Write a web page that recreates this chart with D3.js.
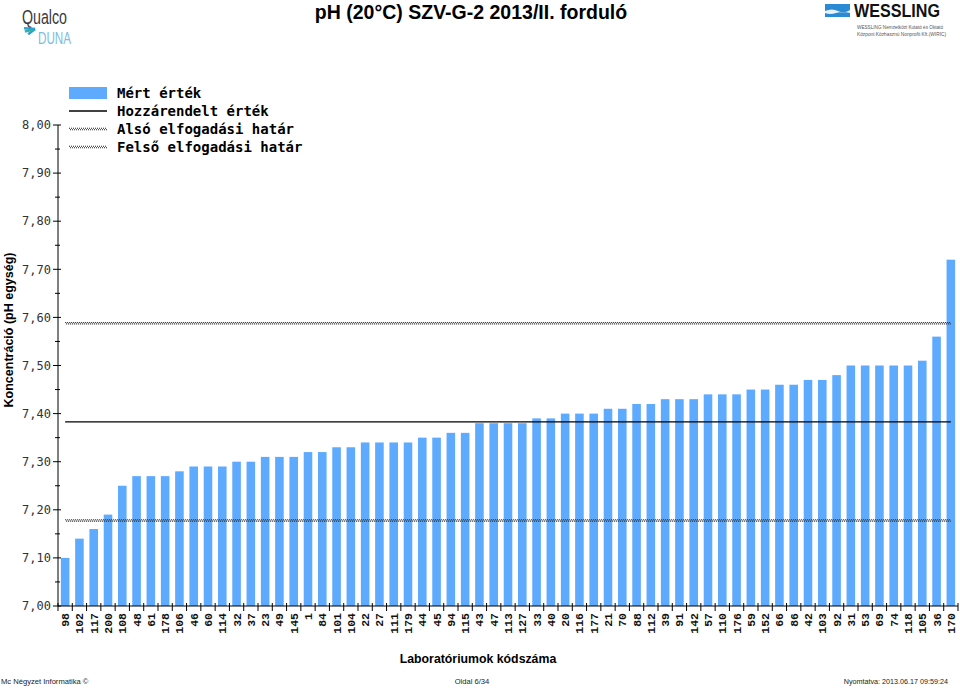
<!DOCTYPE html>
<html><head><meta charset="utf-8">
<script src="https://cdn.jsdelivr.net/npm/d3@7/dist/d3.min.js"></script>
<style>body{margin:0;background:#fff;} svg{display:block;}</style>
</head><body>
<svg id="chart" width="960" height="689"></svg>
<script>
const labs = ["98","102","117","200","108","48","61","178","106","46","60","114","32","37","23","49","145","1","84","101","104","22","27","111","179","44","45","94","115","43","47","113","127","33","40","20","116","177","21","70","88","112","39","91","142","57","110","176","59","152","66","86","42","103","92","31","53","69","74","118","105","36","170"];
const values = [7.10,7.14,7.16,7.19,7.25,7.27,7.27,7.27,7.28,7.29,7.29,7.29,7.30,7.30,7.31,7.31,7.31,7.32,7.32,7.33,7.33,7.34,7.34,7.34,7.34,7.35,7.35,7.36,7.36,7.38,7.38,7.38,7.38,7.39,7.39,7.40,7.40,7.40,7.41,7.41,7.42,7.42,7.43,7.43,7.43,7.44,7.44,7.44,7.45,7.45,7.46,7.46,7.47,7.47,7.48,7.50,7.50,7.50,7.50,7.50,7.51,7.56,7.72];
const assigned = 7.383;
const lowerLimit = 7.178;
const upperLimit = 7.588;
const yTicks = [7.0,7.1,7.2,7.3,7.4,7.5,7.6,7.7,7.8,7.9,8.0];
const yMinor = [7.05,7.15,7.25,7.35,7.45,7.55,7.65,7.75,7.85,7.95];
const legendItems = ["Mért érték","Hozzárendelt érték","Alsó elfogadási határ","Felső elfogadási határ"];

const svg = d3.select("#chart");
const x = d3.scaleBand().domain(labs).range([58, 958]).paddingInner(0.4).paddingOuter(0.2);
const y = d3.scaleLinear().domain([7.0, 8.0]).range([606, 125]);
const barColor = "#5DAAFF";
const ff = "'Liberation Sans', Arial, sans-serif";

// bars
svg.append("g").selectAll("rect").data(values).join("rect")
  .attr("x", (d,i) => x(labs[i]))
  .attr("y", d => y(d))
  .attr("width", x.bandwidth())
  .attr("height", d => y(7.0) - y(d))
  .attr("fill", barColor);

// reference lines
const x0 = x(labs[0]) + x.bandwidth()/2, x1 = x(labs[labs.length-1]) + x.bandwidth()/2;
function hatch(g, yy, xa, xb){
  g.append("line").attr("x1",xa).attr("x2",xb).attr("y1",yy-0.7).attr("y2",yy-0.7)
    .attr("stroke","#222").attr("stroke-width",1.1).attr("stroke-dasharray","1,1");
  g.append("line").attr("x1",xa).attr("x2",xb).attr("y1",yy+0.7).attr("y2",yy+0.7)
    .attr("stroke","#222").attr("stroke-width",1.1).attr("stroke-dasharray","1,1").attr("stroke-dashoffset",1);
}
const refG = svg.append("g");
refG.append("line").attr("x1",x0).attr("x2",x1).attr("y1",y(assigned)).attr("y2",y(assigned))
  .attr("stroke","#000").attr("stroke-width",1.3);
hatch(refG, y(lowerLimit), x0, x1);
hatch(refG, y(upperLimit), x0, x1);

// y axis
const yAx = svg.append("g").attr("transform","translate(58,0)");
yAx.append("line").attr("x1",0).attr("x2",0).attr("y1",y(8.0)).attr("y2",y(7.0)).attr("stroke","#000");
yAx.selectAll(".maj").data(yTicks).join("line").attr("class","maj")
  .attr("x1",-5).attr("x2",3).attr("y1",d=>y(d)).attr("y2",d=>y(d)).attr("stroke","#000");
yAx.selectAll(".min").data(yMinor).join("line").attr("class","min")
  .attr("x1",-3).attr("x2",2).attr("y1",d=>y(d)).attr("y2",d=>y(d)).attr("stroke","#000");
yAx.selectAll("text").data(yTicks).join("text")
  .attr("x",-7).attr("y",d=>y(d)).attr("dy","0.35em")
  .attr("text-anchor","end")
  .style("font-family","'DejaVu Sans Mono', monospace").style("font-size","12px").attr("fill","#333")
  .text(d => d3.format(".2f")(d).replace(".",","));

// x axis
const xAx = svg.append("g");
xAx.append("line").attr("x1",58).attr("x2",958).attr("y1",606).attr("y2",606).attr("stroke","#000");
const bounds = labs.map(l => x(l) - x.step()*x.paddingInner()/2);
bounds.push(x(labs[labs.length-1]) + x.bandwidth() + x.step()*x.paddingInner()/2);
xAx.selectAll(".xt").data(bounds).join("line").attr("class","xt")
  .attr("x1",d=>d).attr("x2",d=>d).attr("y1",603).attr("y2",611).attr("stroke","#000");
xAx.selectAll("text").data(labs).join("text")
  .attr("transform", d => `translate(${x(d)+x.bandwidth()/2+4},613) rotate(-90)`)
  .attr("text-anchor","end")
  .style("font-family","'Liberation Mono', 'Courier New', monospace").style("font-size","11.5px")
  .style("font-weight","bold").attr("fill","#111")
  .text(d => d);

// legend
const lg = svg.append("g");
const ly = [93, 111, 129, 147];
lg.append("rect").attr("x",69).attr("y",ly[0]-6).attr("width",38).attr("height",12).attr("fill",barColor);
lg.append("line").attr("x1",69).attr("x2",107).attr("y1",ly[1]).attr("y2",ly[1]).attr("stroke","#000").attr("stroke-width",1.3);
hatch(lg, ly[2], 69, 107);
hatch(lg, ly[3], 69, 107);
lg.selectAll("text").data(legendItems).join("text")
  .attr("x",117).attr("y",(d,i)=>ly[i]).attr("dy","0.35em")
  .style("font-family","'DejaVu Sans Mono', monospace").style("font-size","14px").style("font-weight","bold")
  .attr("fill","#000").text(d=>d);

// titles
svg.append("text").attr("x",471).attr("y",19).attr("text-anchor","middle")
  .style("font-family",ff).style("font-size","19.5px").style("font-weight","bold")
  .text("pH (20°C) SZV-G-2 2013/II. forduló");
svg.append("text").attr("transform","translate(13,330) rotate(-90)").attr("text-anchor","middle")
  .style("font-family",ff).style("font-size","12.5px").style("font-weight","bold")
  .text("Koncentráció (pH egység)");
svg.append("text").attr("x",478).attr("y",663).attr("text-anchor","middle")
  .style("font-family",ff).style("font-size","12.3px").style("font-weight","bold")
  .text("Laboratóriumok kódszáma");

// footer
svg.append("text").attr("x",1).attr("y",684)
  .style("font-family",ff).style("font-size","7.6px").attr("fill","#222").text("Mc Négyzet Informatika ©");
svg.append("text").attr("x",472).attr("y",684).attr("text-anchor","middle")
  .style("font-family",ff).style("font-size","7.6px").attr("fill","#222").text("Oldal 6/34");
svg.append("text").attr("x",948).attr("y",684).attr("text-anchor","end")
  .style("font-family",ff).style("font-size","7.2px").attr("fill","#222").text("Nyomtatva: 2013.06.17 09:59:24");

// Qualco Duna logo
const ql = svg.append("g");
ql.append("g").attr("transform","translate(22,24) scale(1,1.35)")
  .append("text").attr("x",0).attr("y",0).attr("textLength",45).attr("lengthAdjust","spacingAndGlyphs")
  .style("font-family","'Liberation Sans Narrow', 'Liberation Sans', sans-serif").style("font-size","15px")
  .attr("fill","#3a3a3a").text("Qualco");
ql.append("g").attr("transform","translate(38,44) scale(1,1.3)")
  .append("text").attr("x",0).attr("y",0).attr("textLength",33).attr("lengthAdjust","spacingAndGlyphs")
  .style("font-family","'Liberation Sans Narrow', 'Liberation Sans', sans-serif").style("font-size","12px")
  .attr("fill","#7dbde0").text("DUNA");
[[-0.9,"#2a9fd8"],[-0.4,"#37b0a0"],[0.1,"#2a9fd8"]].forEach(([a,c])=>{
  ql.append("path").attr("d",`M35,29 L${35+11*Math.cos(Math.PI+a)},${29+11*Math.sin(Math.PI+a)*0.6}`)
    .attr("stroke",c).attr("stroke-width",2.5);
});

// WESSLING logo
const wl = svg.append("g");
wl.append("rect").attr("x",825).attr("y",4).attr("width",25).attr("height",13).attr("fill","#2a8ad4");
wl.append("path").attr("d","M825,11 Q832,8 838,11 T850,10 L850,13 Q842,11 836,13 T825,13 Z").attr("fill","#e8f2fb");
wl.append("text").attr("x",854).attr("y",17).attr("textLength",86).attr("lengthAdjust","spacingAndGlyphs")
  .style("font-family",ff).style("font-size","18px").style("font-weight","bold")
  .attr("fill","#111").text("WESSLING");
wl.append("text").attr("x",857).attr("y",29).attr("textLength",86).attr("lengthAdjust","spacingAndGlyphs")
  .style("font-family",ff).style("font-size","5px").attr("fill","#555").text("WESSLING Nemzetközi Kutató és Oktató");
wl.append("text").attr("x",857).attr("y",36).attr("textLength",89).attr("lengthAdjust","spacingAndGlyphs")
  .style("font-family",ff).style("font-size","5px").attr("fill","#555").text("Központ Közhasznú Nonprofit Kft.(WIRIC)");
</script>
</body></html>
